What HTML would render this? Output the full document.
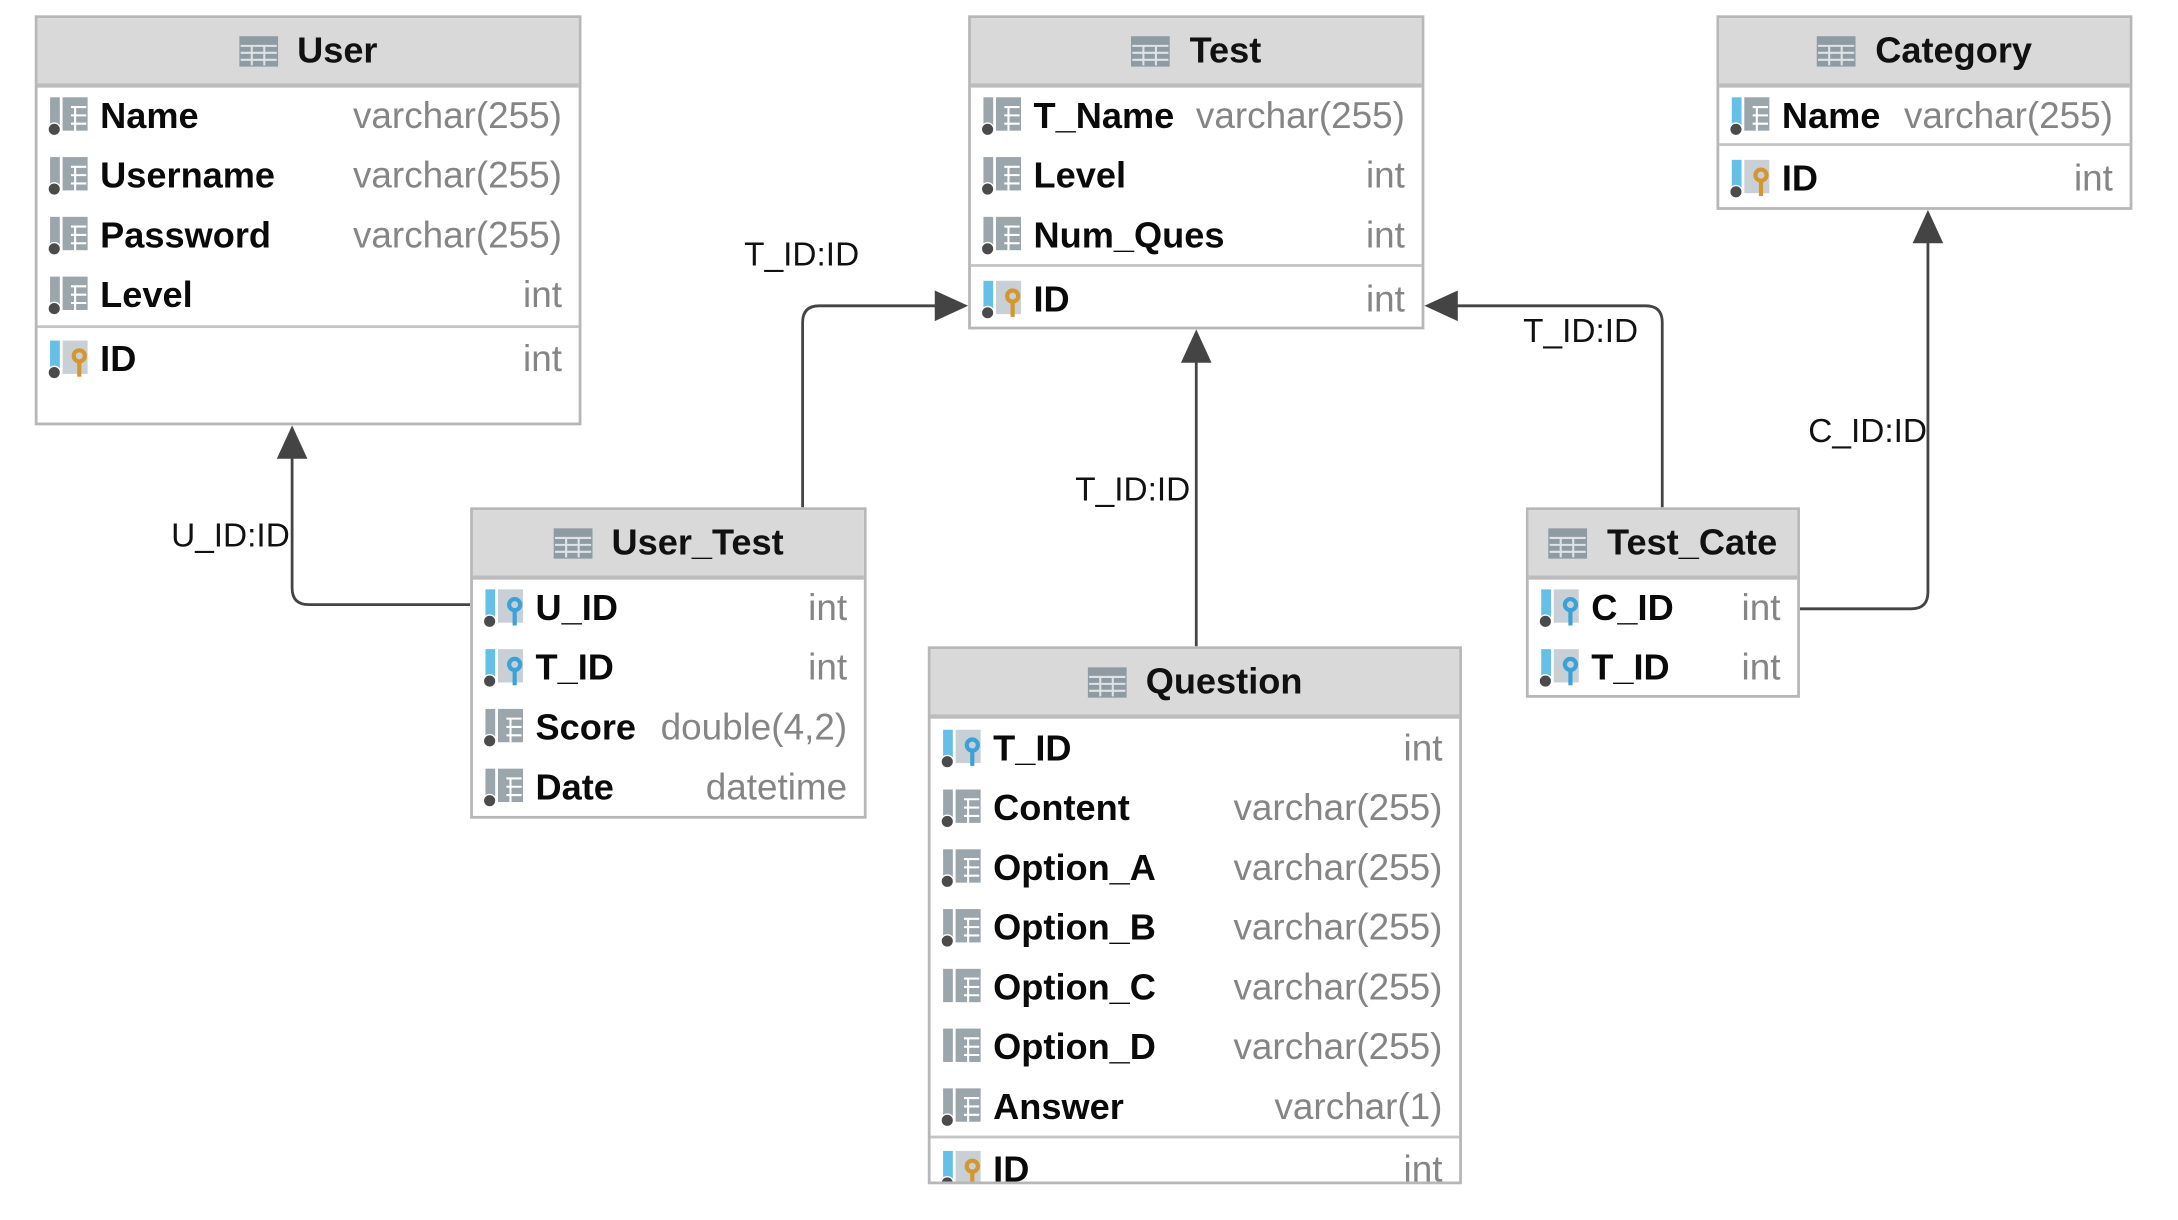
<!DOCTYPE html>
<html><head><meta charset="utf-8"><style>
html,body{margin:0;padding:0;background:#fff;overflow:hidden}
#w{position:absolute;left:0;top:0;width:1570px;height:878px;transform:scale(1.391,1.390);transform-origin:0 0;font-family:"Liberation Sans",sans-serif}
.box{position:absolute;border:2px solid #b7b7b7;box-sizing:border-box;background:#fff}
.hd{position:absolute;left:0;right:0;top:0;height:47px;background:#d9d9d9;border-bottom:3px solid #bcbcbc;display:flex;align-items:center;justify-content:center;font-weight:bold;font-size:26px;color:#111}
.hd svg{margin-right:14px}
.sep{position:absolute;height:2px;background:#c4c4c4}
.r{position:absolute;height:30px;display:flex;align-items:center;white-space:nowrap}
.r svg{margin-right:8px;flex:none}
.r b{color:#0a0a0a;font-size:26px}
.r span{margin-left:auto;color:#858585;font-size:26.5px}
.lb{position:absolute;font-size:24px;color:#111;white-space:nowrap}
</style></head><body><div id="w">

<svg width="1570" height="878" style="position:absolute;left:0;top:0">
<g fill="none" stroke="#444" stroke-width="2">
<path d="M338 435 H222 Q210 435 210 423 V328"/>
<path d="M577 365 V232 Q577 220 589 220 H674"/>
<path d="M860 465 V259"/>
<path d="M1195 365 V232 Q1195 220 1183 220 H1046"/>
<path d="M1294 438 H1374 Q1386 438 1386 426 V173"/>
</g>
<g fill="#444">
<polygon points="210,306 199,330 221,330"/>
<polygon points="696,220 672,209 672,231"/>
<polygon points="860,237 849,261 871,261"/>
<polygon points="1024,220 1048,209 1048,231"/>
<polygon points="1386,151 1375,175 1397,175"/>
</g>
</svg>

<div class="lb" style="left:123px;top:372px">U_ID:ID</div>
<div class="lb" style="left:535px;top:170px">T_ID:ID</div>
<div class="lb" style="left:773px;top:339px">T_ID:ID</div>
<div class="lb" style="left:1095px;top:225px">T_ID:ID</div>
<div class="lb" style="left:1300px;top:297px">C_ID:ID</div>

<div class="box" style="left:25px;top:11px;width:393px;height:295px">
<div class="hd"><svg width="28" height="22"><rect width="28" height="22" fill="#8f9ba3"/><g stroke="#dfe3e6" stroke-width="1.5"><path d="M1 7H27M1 12H27M1 17H27M9 7V21M18 7V21"/></g></svg>User</div>
</div>
<div class="sep" style="left:27px;top:234px;width:389px"></div>

<div class="box" style="left:696px;top:11px;width:328px;height:226px">
<div class="hd"><svg width="28" height="22"><rect width="28" height="22" fill="#8f9ba3"/><g stroke="#dfe3e6" stroke-width="1.5"><path d="M1 7H27M1 12H27M1 17H27M9 7V21M18 7V21"/></g></svg>Test</div>
</div>
<div class="sep" style="left:698px;top:190px;width:324px"></div>

<div class="box" style="left:1234px;top:11px;width:299px;height:140px">
<div class="hd"><svg width="28" height="22"><rect width="28" height="22" fill="#8f9ba3"/><g stroke="#dfe3e6" stroke-width="1.5"><path d="M1 7H27M1 12H27M1 17H27M9 7V21M18 7V21"/></g></svg>Category</div>
</div>
<div class="sep" style="left:1236px;top:103px;width:295px"></div>

<div class="box" style="left:338px;top:365px;width:285px;height:224px">
<div class="hd"><svg width="28" height="22"><rect width="28" height="22" fill="#8f9ba3"/><g stroke="#dfe3e6" stroke-width="1.5"><path d="M1 7H27M1 12H27M1 17H27M9 7V21M18 7V21"/></g></svg>User_Test</div>
</div>

<div class="box" style="left:667px;top:465px;width:384px;height:387px">
<div class="hd"><svg width="28" height="22"><rect width="28" height="22" fill="#8f9ba3"/><g stroke="#dfe3e6" stroke-width="1.5"><path d="M1 7H27M1 12H27M1 17H27M9 7V21M18 7V21"/></g></svg>Question</div>
</div>
<div class="sep" style="left:669px;top:817px;width:380px"></div>

<div class="box" style="left:1097px;top:365px;width:197px;height:137px">
<div class="hd"><svg width="28" height="22"><rect width="28" height="22" fill="#8f9ba3"/><g stroke="#dfe3e6" stroke-width="1.5"><path d="M1 7H27M1 12H27M1 17H27M9 7V21M18 7V21"/></g></svg>Test_Cate</div>
</div>

<div class="r" style="left:34px;top:68px;width:370px"><svg width="30" height="30"><rect x="2" y="2" width="7" height="24" fill="#9ba5ac"/><rect x="11" y="2" width="18" height="24" fill="#9ba5ac"/><path d="M17 9H28M17 15H28M17 21H28M20 9V26" stroke="#fff" stroke-width="1.5"/><circle cx="5" cy="25" r="4.5" fill="#4b4b4b" stroke="#fff" stroke-width="1"/></svg><b>Name</b><span>varchar(255)</span></div>
<div class="r" style="left:34px;top:111px;width:370px"><svg width="30" height="30"><rect x="2" y="2" width="7" height="24" fill="#9ba5ac"/><rect x="11" y="2" width="18" height="24" fill="#9ba5ac"/><path d="M17 9H28M17 15H28M17 21H28M20 9V26" stroke="#fff" stroke-width="1.5"/><circle cx="5" cy="25" r="4.5" fill="#4b4b4b" stroke="#fff" stroke-width="1"/></svg><b>Username</b><span>varchar(255)</span></div>
<div class="r" style="left:34px;top:154px;width:370px"><svg width="30" height="30"><rect x="2" y="2" width="7" height="24" fill="#9ba5ac"/><rect x="11" y="2" width="18" height="24" fill="#9ba5ac"/><path d="M17 9H28M17 15H28M17 21H28M20 9V26" stroke="#fff" stroke-width="1.5"/><circle cx="5" cy="25" r="4.5" fill="#4b4b4b" stroke="#fff" stroke-width="1"/></svg><b>Password</b><span>varchar(255)</span></div>
<div class="r" style="left:34px;top:197px;width:370px"><svg width="30" height="30"><rect x="2" y="2" width="7" height="24" fill="#9ba5ac"/><rect x="11" y="2" width="18" height="24" fill="#9ba5ac"/><path d="M17 9H28M17 15H28M17 21H28M20 9V26" stroke="#fff" stroke-width="1.5"/><circle cx="5" cy="25" r="4.5" fill="#4b4b4b" stroke="#fff" stroke-width="1"/></svg><b>Level</b><span>int</span></div>
<div class="r" style="left:34px;top:243px;width:370px"><svg width="30" height="30"><rect x="2" y="2" width="7" height="24" fill="#64c0e6"/><rect x="11" y="2" width="18" height="24" fill="#c9d0d5"/><circle cx="23" cy="13" r="4" fill="none" stroke="#d4962e" stroke-width="3"/><rect x="21.5" y="16" width="3" height="12" fill="#d4962e"/><circle cx="5" cy="25" r="4.5" fill="#4b4b4b" stroke="#fff" stroke-width="1"/></svg><b>ID</b><span>int</span></div>

<div class="r" style="left:705px;top:68px;width:305px"><svg width="30" height="30"><rect x="2" y="2" width="7" height="24" fill="#9ba5ac"/><rect x="11" y="2" width="18" height="24" fill="#9ba5ac"/><path d="M17 9H28M17 15H28M17 21H28M20 9V26" stroke="#fff" stroke-width="1.5"/><circle cx="5" cy="25" r="4.5" fill="#4b4b4b" stroke="#fff" stroke-width="1"/></svg><b>T_Name</b><span>varchar(255)</span></div>
<div class="r" style="left:705px;top:111px;width:305px"><svg width="30" height="30"><rect x="2" y="2" width="7" height="24" fill="#9ba5ac"/><rect x="11" y="2" width="18" height="24" fill="#9ba5ac"/><path d="M17 9H28M17 15H28M17 21H28M20 9V26" stroke="#fff" stroke-width="1.5"/><circle cx="5" cy="25" r="4.5" fill="#4b4b4b" stroke="#fff" stroke-width="1"/></svg><b>Level</b><span>int</span></div>
<div class="r" style="left:705px;top:154px;width:305px"><svg width="30" height="30"><rect x="2" y="2" width="7" height="24" fill="#9ba5ac"/><rect x="11" y="2" width="18" height="24" fill="#9ba5ac"/><path d="M17 9H28M17 15H28M17 21H28M20 9V26" stroke="#fff" stroke-width="1.5"/><circle cx="5" cy="25" r="4.5" fill="#4b4b4b" stroke="#fff" stroke-width="1"/></svg><b>Num_Ques</b><span>int</span></div>
<div class="r" style="left:705px;top:200px;width:305px"><svg width="30" height="30"><rect x="2" y="2" width="7" height="24" fill="#64c0e6"/><rect x="11" y="2" width="18" height="24" fill="#c9d0d5"/><circle cx="23" cy="13" r="4" fill="none" stroke="#d4962e" stroke-width="3"/><rect x="21.5" y="16" width="3" height="12" fill="#d4962e"/><circle cx="5" cy="25" r="4.5" fill="#4b4b4b" stroke="#fff" stroke-width="1"/></svg><b>ID</b><span>int</span></div>

<div class="r" style="left:1243px;top:68px;width:276px"><svg width="30" height="30"><rect x="2" y="2" width="7" height="24" fill="#64c0e6"/><rect x="11" y="2" width="18" height="24" fill="#9ba5ac"/><path d="M17 9H28M17 15H28M17 21H28M20 9V26" stroke="#fff" stroke-width="1.5"/><circle cx="5" cy="25" r="4.5" fill="#4b4b4b" stroke="#fff" stroke-width="1"/></svg><b>Name</b><span>varchar(255)</span></div>
<div class="r" style="left:1243px;top:113px;width:276px"><svg width="30" height="30"><rect x="2" y="2" width="7" height="24" fill="#64c0e6"/><rect x="11" y="2" width="18" height="24" fill="#c9d0d5"/><circle cx="23" cy="13" r="4" fill="none" stroke="#d4962e" stroke-width="3"/><rect x="21.5" y="16" width="3" height="12" fill="#d4962e"/><circle cx="5" cy="25" r="4.5" fill="#4b4b4b" stroke="#fff" stroke-width="1"/></svg><b>ID</b><span>int</span></div>

<div class="r" style="left:347px;top:422px;width:262px"><svg width="30" height="30"><rect x="2" y="2" width="7" height="24" fill="#64c0e6"/><rect x="11" y="2" width="18" height="24" fill="#c9d0d5"/><circle cx="23" cy="13" r="4" fill="none" stroke="#3aa2d8" stroke-width="3"/><rect x="21.5" y="16" width="3" height="12" fill="#3aa2d8"/><circle cx="5" cy="25" r="4.5" fill="#4b4b4b" stroke="#fff" stroke-width="1"/></svg><b>U_ID</b><span>int</span></div>
<div class="r" style="left:347px;top:465px;width:262px"><svg width="30" height="30"><rect x="2" y="2" width="7" height="24" fill="#64c0e6"/><rect x="11" y="2" width="18" height="24" fill="#c9d0d5"/><circle cx="23" cy="13" r="4" fill="none" stroke="#3aa2d8" stroke-width="3"/><rect x="21.5" y="16" width="3" height="12" fill="#3aa2d8"/><circle cx="5" cy="25" r="4.5" fill="#4b4b4b" stroke="#fff" stroke-width="1"/></svg><b>T_ID</b><span>int</span></div>
<div class="r" style="left:347px;top:508px;width:262px"><svg width="30" height="30"><rect x="2" y="2" width="7" height="24" fill="#9ba5ac"/><rect x="11" y="2" width="18" height="24" fill="#9ba5ac"/><path d="M17 9H28M17 15H28M17 21H28M20 9V26" stroke="#fff" stroke-width="1.5"/><circle cx="5" cy="25" r="4.5" fill="#4b4b4b" stroke="#fff" stroke-width="1"/></svg><b>Score</b><span>double(4,2)</span></div>
<div class="r" style="left:347px;top:551px;width:262px"><svg width="30" height="30"><rect x="2" y="2" width="7" height="24" fill="#9ba5ac"/><rect x="11" y="2" width="18" height="24" fill="#9ba5ac"/><path d="M17 9H28M17 15H28M17 21H28M20 9V26" stroke="#fff" stroke-width="1.5"/><circle cx="5" cy="25" r="4.5" fill="#4b4b4b" stroke="#fff" stroke-width="1"/></svg><b>Date</b><span>datetime</span></div>

<div class="r" style="left:676px;top:523px;width:361px"><svg width="30" height="30"><rect x="2" y="2" width="7" height="24" fill="#64c0e6"/><rect x="11" y="2" width="18" height="24" fill="#c9d0d5"/><circle cx="23" cy="13" r="4" fill="none" stroke="#3aa2d8" stroke-width="3"/><rect x="21.5" y="16" width="3" height="12" fill="#3aa2d8"/><circle cx="5" cy="25" r="4.5" fill="#4b4b4b" stroke="#fff" stroke-width="1"/></svg><b>T_ID</b><span>int</span></div>
<div class="r" style="left:676px;top:566px;width:361px"><svg width="30" height="30"><rect x="2" y="2" width="7" height="24" fill="#9ba5ac"/><rect x="11" y="2" width="18" height="24" fill="#9ba5ac"/><path d="M17 9H28M17 15H28M17 21H28M20 9V26" stroke="#fff" stroke-width="1.5"/><circle cx="5" cy="25" r="4.5" fill="#4b4b4b" stroke="#fff" stroke-width="1"/></svg><b>Content</b><span>varchar(255)</span></div>
<div class="r" style="left:676px;top:609px;width:361px"><svg width="30" height="30"><rect x="2" y="2" width="7" height="24" fill="#9ba5ac"/><rect x="11" y="2" width="18" height="24" fill="#9ba5ac"/><path d="M17 9H28M17 15H28M17 21H28M20 9V26" stroke="#fff" stroke-width="1.5"/><circle cx="5" cy="25" r="4.5" fill="#4b4b4b" stroke="#fff" stroke-width="1"/></svg><b>Option_A</b><span>varchar(255)</span></div>
<div class="r" style="left:676px;top:652px;width:361px"><svg width="30" height="30"><rect x="2" y="2" width="7" height="24" fill="#9ba5ac"/><rect x="11" y="2" width="18" height="24" fill="#9ba5ac"/><path d="M17 9H28M17 15H28M17 21H28M20 9V26" stroke="#fff" stroke-width="1.5"/><circle cx="5" cy="25" r="4.5" fill="#4b4b4b" stroke="#fff" stroke-width="1"/></svg><b>Option_B</b><span>varchar(255)</span></div>
<div class="r" style="left:676px;top:695px;width:361px"><svg width="30" height="30"><rect x="2" y="2" width="7" height="24" fill="#9ba5ac"/><rect x="11" y="2" width="18" height="24" fill="#9ba5ac"/><path d="M17 9H28M17 15H28M17 21H28M20 9V26" stroke="#fff" stroke-width="1.5"/></svg><b>Option_C</b><span>varchar(255)</span></div>
<div class="r" style="left:676px;top:738px;width:361px"><svg width="30" height="30"><rect x="2" y="2" width="7" height="24" fill="#9ba5ac"/><rect x="11" y="2" width="18" height="24" fill="#9ba5ac"/><path d="M17 9H28M17 15H28M17 21H28M20 9V26" stroke="#fff" stroke-width="1.5"/></svg><b>Option_D</b><span>varchar(255)</span></div>
<div class="r" style="left:676px;top:781px;width:361px"><svg width="30" height="30"><rect x="2" y="2" width="7" height="24" fill="#9ba5ac"/><rect x="11" y="2" width="18" height="24" fill="#9ba5ac"/><path d="M17 9H28M17 15H28M17 21H28M20 9V26" stroke="#fff" stroke-width="1.5"/><circle cx="5" cy="25" r="4.5" fill="#4b4b4b" stroke="#fff" stroke-width="1"/></svg><b>Answer</b><span>varchar(1)</span></div>
<div style="position:absolute;left:669px;top:820px;width:380px;height:30px;overflow:hidden">
<div class="r" style="left:7px;top:6px;width:361px"><svg width="30" height="30"><rect x="2" y="2" width="7" height="24" fill="#64c0e6"/><rect x="11" y="2" width="18" height="24" fill="#c9d0d5"/><circle cx="23" cy="13" r="4" fill="none" stroke="#d4962e" stroke-width="3"/><rect x="21.5" y="16" width="3" height="12" fill="#d4962e"/><circle cx="5" cy="25" r="4.5" fill="#4b4b4b" stroke="#fff" stroke-width="1"/></svg><b>ID</b><span>int</span></div>
</div>

<div class="r" style="left:1106px;top:422px;width:174px"><svg width="30" height="30"><rect x="2" y="2" width="7" height="24" fill="#64c0e6"/><rect x="11" y="2" width="18" height="24" fill="#c9d0d5"/><circle cx="23" cy="13" r="4" fill="none" stroke="#3aa2d8" stroke-width="3"/><rect x="21.5" y="16" width="3" height="12" fill="#3aa2d8"/><circle cx="5" cy="25" r="4.5" fill="#4b4b4b" stroke="#fff" stroke-width="1"/></svg><b>C_ID</b><span>int</span></div>
<div class="r" style="left:1106px;top:465px;width:174px"><svg width="30" height="30"><rect x="2" y="2" width="7" height="24" fill="#64c0e6"/><rect x="11" y="2" width="18" height="24" fill="#c9d0d5"/><circle cx="23" cy="13" r="4" fill="none" stroke="#3aa2d8" stroke-width="3"/><rect x="21.5" y="16" width="3" height="12" fill="#3aa2d8"/><circle cx="5" cy="25" r="4.5" fill="#4b4b4b" stroke="#fff" stroke-width="1"/></svg><b>T_ID</b><span>int</span></div>

</div></body></html>
